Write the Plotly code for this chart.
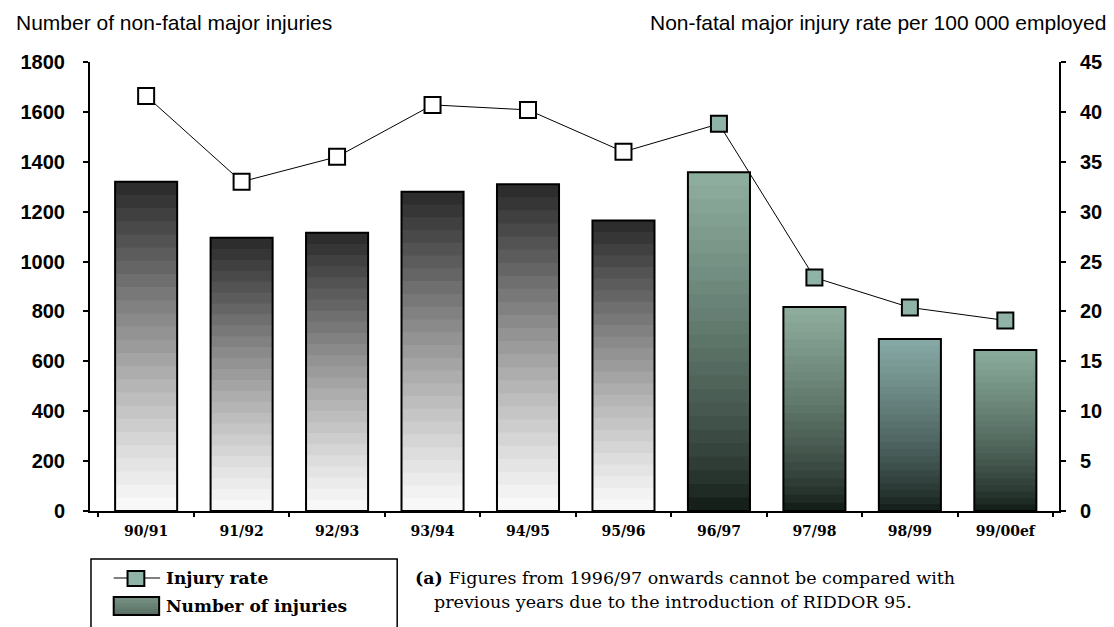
import plotly.graph_objects as go

# ---------------- data ----------------
years = ["90/91", "91/92", "92/93", "93/94", "94/95", "95/96", "96/97", "97/98", "98/99", "99/00ef"]
injuries = [1320, 1095, 1115, 1280, 1310, 1165, 1358, 818, 690, 645]
injury_rate = [41.6, 33.0, 35.5, 40.7, 40.2, 36.0, 38.8, 23.4, 20.4, 19.1]
riddor95_from = "96/97"   # figures from this year onwards use RIDDOR 95

left_title = "Number of non-fatal major injuries"
right_title = "Non-fatal major injury rate per 100 000 employed"
legend_rate = "Injury rate"
legend_count = "Number of injuries"
note_line1 = "<b>(a)</b> Figures from 1996/97 onwards cannot be compared with"
note_line2 = "previous years due to the introduction of RIDDOR 95."

# ---------------- styles ----------------
OFF = 8  # page body margin
W, H = 1114 - OFF, 627 - OFF
ML, MR, MT, MB = 81 - OFF, 52, 62 - OFF, 116
PW, PH = W - ML - MR, H - MT - MB
N_BANDS = 25
green_tops = [(143, 175, 160), (143, 174, 158), (135, 170, 166), (138, 172, 156)]
green_bottom = (14, 22, 18)
rate_fill_new = "#8fb3a6"

brk = years.index(riddor95_from)
is_new = [i >= brk for i in range(len(years))]


def band_color(i, f):
    if not is_new[i]:
        c = int(round(250 - 210 * f ** 1.15))
        return f"rgb({c},{c},{c})"
    top = green_tops[(i - brk) % len(green_tops)]
    g = f ** 0.7
    r = [int(round(b + (t - b) * g)) for t, b in zip(top, green_bottom)]
    return f"rgb({r[0]},{r[1]},{r[2]})"


fig = go.Figure()

# gradient bars: stacked overlay bands, tallest first
for k in range(N_BANDS):
    frac = (N_BANDS - k) / N_BANDS
    fcen = (N_BANDS - k - 0.5) / N_BANDS
    fig.add_trace(go.Bar(
        x=years, y=[v * frac for v in injuries], width=0.65,
        marker=dict(color=[band_color(i, fcen) for i in range(len(years))], line=dict(width=0)),
        showlegend=False, hoverinfo="skip"))

# bar outlines
fig.add_trace(go.Bar(
    x=years, y=injuries, width=0.65, name=legend_count,
    marker=dict(color="rgba(0,0,0,0)", line=dict(color="black", width=2)),
    showlegend=False))

# injury rate line
fig.add_trace(go.Scatter(
    x=years, y=injury_rate, yaxis="y2", mode="lines+markers", name=legend_rate,
    line=dict(color="black", width=1),
    marker=dict(symbol="square", size=16,
                color=[rate_fill_new if n else "white" for n in is_new],
                line=dict(color="black", width=2)),
    showlegend=False))


def px(x):  # page pixel -> paper
    return (x - OFF - ML) / PW


def py(y):
    return (H - MB - (y - OFF)) / PH


shapes = [
    # legend box
    dict(type="rect", xref="paper", yref="paper", x0=px(82), x1=px(392), y0=py(660), y1=py(559),
         line=dict(color="black", width=1.5), fillcolor="white"),
    dict(type="line", xref="paper", yref="paper", x0=px(105), x1=px(152), y0=py(578), y1=py(578),
         line=dict(color="black", width=1.2)),
    dict(type="rect", xref="paper", yref="paper", x0=px(119), x1=px(136), y0=py(586), y1=py(571),
         line=dict(color="black", width=2), fillcolor=rate_fill_new),
]
# legend bar symbol with small gradient
for j in range(6):
    y0 = 597 + j * 3
    f = 1 - (j + 0.5) / 6
    c = band_color(brk, 0.45 + 0.3 * f)
    shapes.append(dict(type="rect", xref="paper", yref="paper", x0=px(105), x1=px(151),
                       y0=py(y0 + 3), y1=py(y0), line=dict(width=0), fillcolor=c))
shapes.append(dict(type="rect", xref="paper", yref="paper", x0=px(105), x1=px(151), y0=py(615), y1=py(597),
                   line=dict(color="black", width=2), fillcolor="rgba(0,0,0,0)"))

serif = "DejaVu Serif"
sans = "Liberation Sans"
annotations = [
    dict(text=left_title, xref="paper", yref="paper", x=px(4), y=py(22), xanchor="left", yanchor="middle",
         showarrow=False, font=dict(family=sans, size=21, color="black")),
    dict(text=right_title, xref="paper", yref="paper", x=px(1112), y=py(22), xanchor="right", yanchor="middle",
         showarrow=False, font=dict(family=sans, size=21, color="black")),
    dict(text=legend_rate, xref="paper", yref="paper", x=px(156), y=py(578), xanchor="left", yanchor="middle",
         showarrow=False, font=dict(family=serif, size=17, color="black", weight="bold")),
    dict(text=legend_count, xref="paper", yref="paper", x=px(156), y=py(606), xanchor="left", yanchor="middle",
         showarrow=False, font=dict(family=serif, size=17, color="black", weight="bold")),
    dict(text=note_line1, xref="paper", yref="paper", x=px(408), y=py(578), xanchor="left", yanchor="middle",
         showarrow=False, font=dict(family=serif, size=17.5, color="black")),
    dict(text=note_line2, xref="paper", yref="paper", x=px(427), y=py(602), xanchor="left", yanchor="middle",
         showarrow=False, font=dict(family=serif, size=17.5, color="black")),
]

fig.update_layout(
    width=W, height=H, margin=dict(l=ML, r=MR, t=MT, b=MB),
    paper_bgcolor="white", plot_bgcolor="white",
    barmode="overlay", bargap=0.35, showlegend=False,
    shapes=shapes, annotations=annotations,
    xaxis=dict(type="category", range=[-0.588, 9.562], showline=True, linecolor="black", linewidth=2,
               ticks="outside", ticklen=4, tickwidth=1.5, tickcolor="black", tickson="boundaries",
               showgrid=False, zeroline=False, ticklabelstandoff=6,
               tickfont=dict(family=serif, size=14, color="black", weight="bold")),
    yaxis=dict(range=[0, 1800], dtick=200, showline=True, linecolor="black", linewidth=2,
               ticks="outside", ticklen=5, tickwidth=1.5, tickcolor="black", showgrid=False, zeroline=False,
               ticklabelstandoff=14, tickfont=dict(family=sans, size=20, color="black", weight="bold")),
    yaxis2=dict(range=[0, 45], dtick=5, overlaying="y", side="right", showline=True, linecolor="black",
                linewidth=2, ticks="outside", ticklen=5, tickwidth=1.5, tickcolor="black", showgrid=False,
                zeroline=False, ticklabelstandoff=10,
                tickfont=dict(family=sans, size=20, color="black", weight="bold")),
)

fig.write_html("out.html")
